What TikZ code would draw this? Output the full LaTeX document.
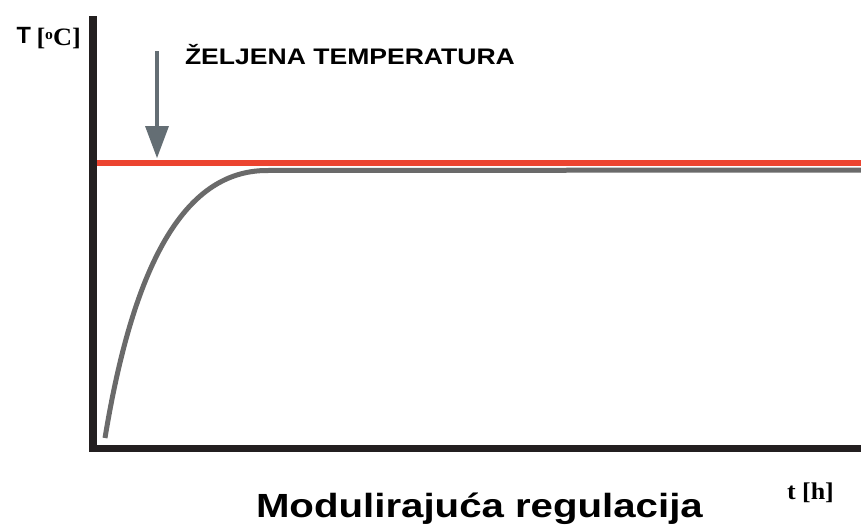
\documentclass[tikz,border=0pt]{standalone}
\usepackage{fontspec}
\usepackage{graphicx}
\newfontfamily\hsans{Liberation Sans}
\newfontfamily\tserif{Liberation Serif}
\definecolor{axisblack}{HTML}{231F20}
\definecolor{setred}{HTML}{EC4430}
\definecolor{curvegray}{HTML}{6A6A6A}
\definecolor{arrowgray}{HTML}{646E74}
\tikzset{
  lbl/.style={anchor=base west, inner sep=0pt, outer sep=0pt, text=black},
}
\begin{document}
\begin{tikzpicture}[x=1pt,y=-1pt]
\useasboundingbox (0,0) rectangle (861,530);
% axes
\fill[axisblack] (89,16) rectangle (97,452);
\fill[axisblack] (89,445) rectangle (861,452);
% set-point line
\fill[setred] (97,160) rectangle (861,166);
% response curve
\coordinate (c0) at (105,438);
\coordinate (c1) at (265,170.5);
\coordinate (c2) at (861,170);
\draw[curvegray, line width=5pt, line cap=butt]
  (c0) .. controls (135,255) and (188,172) .. (c1) -- (c2);
% arrow
\fill[arrowgray] (155,51) rectangle (159,127);
\fill[arrowgray] (145,126) -- (169,126) -- (157,158) -- cycle;
% labels
\node[lbl] (ylab) at (16.5,43.5) {\hsans\bfseries\fontsize{23.5}{24}\selectfont T};
\node[lbl] (yunit) at (36.5,45.5) {\scalebox{1.05}[1]{\tserif\bfseries\fontsize{25}{25}\selectfont [\raisebox{0.5ex}{\fontsize{15}{15}\selectfont o}C]}};
\node[lbl] (zel) at (185,64.5) {\scalebox{1.18}[1]{\hsans\bfseries\fontsize{22.5}{22}\selectfont ŽELJENA TEMPERATURA}};
\node[lbl] (title) at (256,517) {\scalebox{1.2}[1]{\hsans\bfseries\fontsize{33.5}{33}\selectfont Modulirajuća regulacija}};
\node[lbl] (xlab) at (787,499) {\scalebox{1.08}[1]{\tserif\bfseries\fontsize{24}{24}\selectfont t [h]}};
\end{tikzpicture}
\end{document}
